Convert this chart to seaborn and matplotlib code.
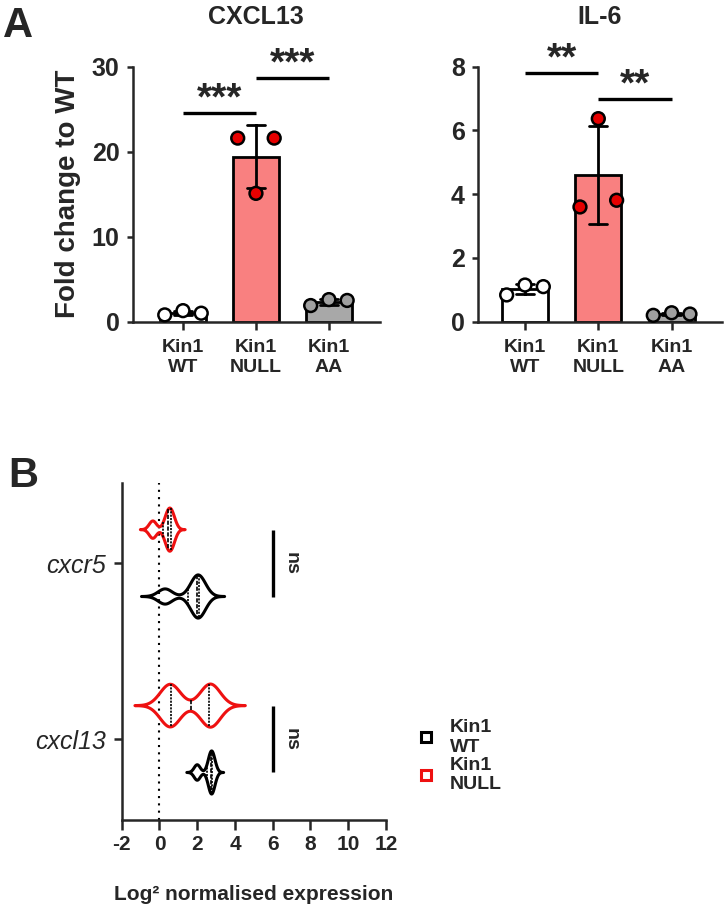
"""Kin1 fold-change bar charts (A) and log2 expression violins (B)."""

import matplotlib.pyplot as plt
import pandas as pd
import seaborn as sns
from matplotlib.lines import Line2D

# panel A
GROUPS = ["Kin1\nWT", "Kin1\nNULL", "Kin1\nAA"]
CXCL13_FOLD = [[0.8, 1.3, 1.0], [21.6, 15.1, 21.6], [1.9, 2.6, 2.5]]
IL6_FOLD = [[0.84, 1.15, 1.1], [3.6, 6.37, 3.81], [0.2, 0.28, 0.24]]
CXCL13_SIG = [(0, 1, 24.5, "***"), (1, 2, 28.7, "***")]
IL6_SIG = [(0, 1, 7.79, "**"), (1, 2, 7.0, "**")]

# panel B
GENES = ["cxcr5", "cxcl13"]
GENOTYPES = ["Kin1\nNULL", "Kin1\nWT"]
CXCR5_NULL = [-0.35, 0.4, 0.55, 0.7]
CXCR5_WT = [0.3, 1.9, 2.05, 2.2]
CXCL13_NULL = [0.45, 0.7, 2.6, 2.8]
CXCL13_WT = [2.0, 2.7, 2.75, 2.85]
NS_X = 6

BAR_COLORS = ["white", "#F98080", "#A8A8A8"]
POINT_COLORS = ["white", "#E60000", "#A0A0A0"]
VIOLIN_COLORS = {"Kin1\nNULL": "#EE1111", "Kin1\nWT": "black"}
REP_OFFSETS = [-0.25, 0.0, 0.25]

W, H = 726, 906


def px_axes(fig, left, right, top, bottom):
    return fig.add_axes([left / W, 1 - bottom / H, (right - left) / W, (bottom - top) / H])


def fold_frame(values):
    rows = []
    for i, (group, reps) in enumerate(zip(GROUPS, values)):
        for k, v in enumerate(reps):
            rows.append({"group": group, "pos": i + REP_OFFSETS[k], "value": v})
    return pd.DataFrame(rows)


def plot_fold(ax, values, sig, title, ylim, yticks, xlim):
    df = fold_frame(values)
    sns.barplot(
        data=df, x="group", y="value", hue="group", order=GROUPS, hue_order=GROUPS,
        palette=BAR_COLORS, saturation=1, width=0.63, errorbar="sd", capsize=0.25,
        edgecolor="black", linewidth=2, err_kws={"color": "black", "linewidth": 2},
        legend=False, ax=ax,
    )
    sns.scatterplot(
        data=df, x="pos", y="value", hue="group", hue_order=GROUPS, palette=POINT_COLORS,
        s=85, edgecolor="black", linewidth=1.8, legend=False, zorder=4, clip_on=False, ax=ax,
    )
    for i, j, y, stars in sig:
        ax.plot([i, j], [y, y], color="black", lw=2.4, clip_on=False, solid_capstyle="butt")
        ax.annotate(stars, ((i + j) / 2, y), xytext=(0, 2.5), textcoords="offset points",
                    ha="center", va="baseline", fontsize=28, annotation_clip=False)
    ax.set_xlim(*xlim)
    ax.set_ylim(*ylim)
    ax.set_yticks(yticks)
    ax.set(xlabel="", ylabel="")
    ax.set_title(title, fontsize=18, pad=31)
    ax.tick_params(axis="y", length=4.3, width=1.8, pad=5, labelsize=18)
    ax.tick_params(axis="x", length=5.8, width=1.8, pad=7, labelsize=14)
    sns.despine(ax=ax)


def violin_frame():
    rows = []
    for gene, genotype, vals in [
        ("cxcr5", "Kin1\nNULL", CXCR5_NULL),
        ("cxcr5", "Kin1\nWT", CXCR5_WT),
        ("cxcl13", "Kin1\nNULL", CXCL13_NULL),
        ("cxcl13", "Kin1\nWT", CXCL13_WT),
    ]:
        rows.extend({"gene": gene, "genotype": genotype, "value": v} for v in vals)
    return pd.DataFrame(rows)


def plot_violins(fig, ax):
    df = violin_frame()
    sns.violinplot(
        data=df, x="value", y="gene", hue="genotype", order=GENES, hue_order=GENOTYPES,
        orient="h", palette=VIOLIN_COLORS, saturation=1, fill=False, inner="quart",
        inner_kws={"color": "black", "linewidth": 1.2}, width=0.76, gap=0.355,
        linewidth=2.2, bw_adjust=0.55, cut=3.4, density_norm="width", legend=False, ax=ax,
    )
    ax.axvline(0, color="black", lw=1.5, ls=(0, (1, 2.5)), zorder=0)
    for k in range(len(GENES)):
        ax.plot([NS_X, NS_X], [k - 0.19, k + 0.19], color="black", lw=2.4, solid_capstyle="butt")
        ax.text(NS_X + 0.95, k, "ns", rotation=270, ha="center", va="center", fontsize=14)
    ax.set_xlim(-2, 12)
    ax.set_xticks(range(-2, 13, 2))
    ax.set_ylim(1.46, -0.455)
    ax.set_ylabel("")
    ax.set_xlabel("Log\u00b2 normalised expression", fontsize=15, labelpad=22)
    ax.tick_params(axis="x", length=7, width=1.8, pad=4, labelsize=15)
    ax.tick_params(axis="y", length=6, width=1.8, pad=5, labelsize=18)
    for lab in ax.get_yticklabels():
        lab.set_fontstyle("italic")
        lab.set_fontweight("normal")
    sns.despine(ax=ax)
    handles = [
        Line2D([], [], ls="none", marker="s", ms=7, mfc="none", mec=VIOLIN_COLORS[g], mew=2.2)
        for g in ["Kin1\nWT", "Kin1\nNULL"]
    ]
    ax.legend(
        handles, ["Kin1\nWT", "Kin1\nNULL"], loc="upper left", bbox_to_anchor=(418 / W, 1 - 719 / H),
        bbox_transform=fig.transFigure, frameon=False, prop={"weight": "bold", "size": 14},
        handlelength=0.8, handletextpad=0.85, labelspacing=0.05, borderpad=0, borderaxespad=0,
    )


def main():
    sns.set_style("ticks")
    plt.rcParams["font.family"] = ["Liberation Sans", "DejaVu Sans"]
    plt.rcParams["font.weight"] = "bold"
    plt.rcParams["axes.titleweight"] = "bold"
    plt.rcParams["axes.labelweight"] = "bold"
    plt.rcParams["axes.linewidth"] = 1.8
    plt.rcParams["axes.unicode_minus"] = False

    fig = plt.figure(figsize=(W / 100, H / 100), dpi=100)
    ax1 = px_axes(fig, 132.5, 380, 66.7, 321.7)
    ax2 = px_axes(fig, 477.7, 721.7, 66.7, 321.7)
    ax3 = px_axes(fig, 121.7, 386, 483, 820)

    plot_fold(ax1, CXCL13_FOLD, CXCL13_SIG, "CXCL13", (0, 30), [0, 10, 20, 30], (-0.692, 2.70))
    plot_fold(ax2, IL6_FOLD, IL6_SIG, "IL-6", (0, 8), [0, 2, 4, 6, 8], (-0.645, 2.683))
    ax1.set_ylabel("Fold change to WT", fontsize=20, labelpad=8)
    plot_violins(fig, ax3)

    fig.text(3 / W, 1 - 37 / H, "A", fontsize=30, va="baseline", ha="left")
    fig.text(8 / W, 1 - 487 / H, "B", fontsize=30, va="baseline", ha="left")
    fig.savefig("out.png", dpi=100)
    plt.close(fig)


if __name__ == "__main__":
    main()
